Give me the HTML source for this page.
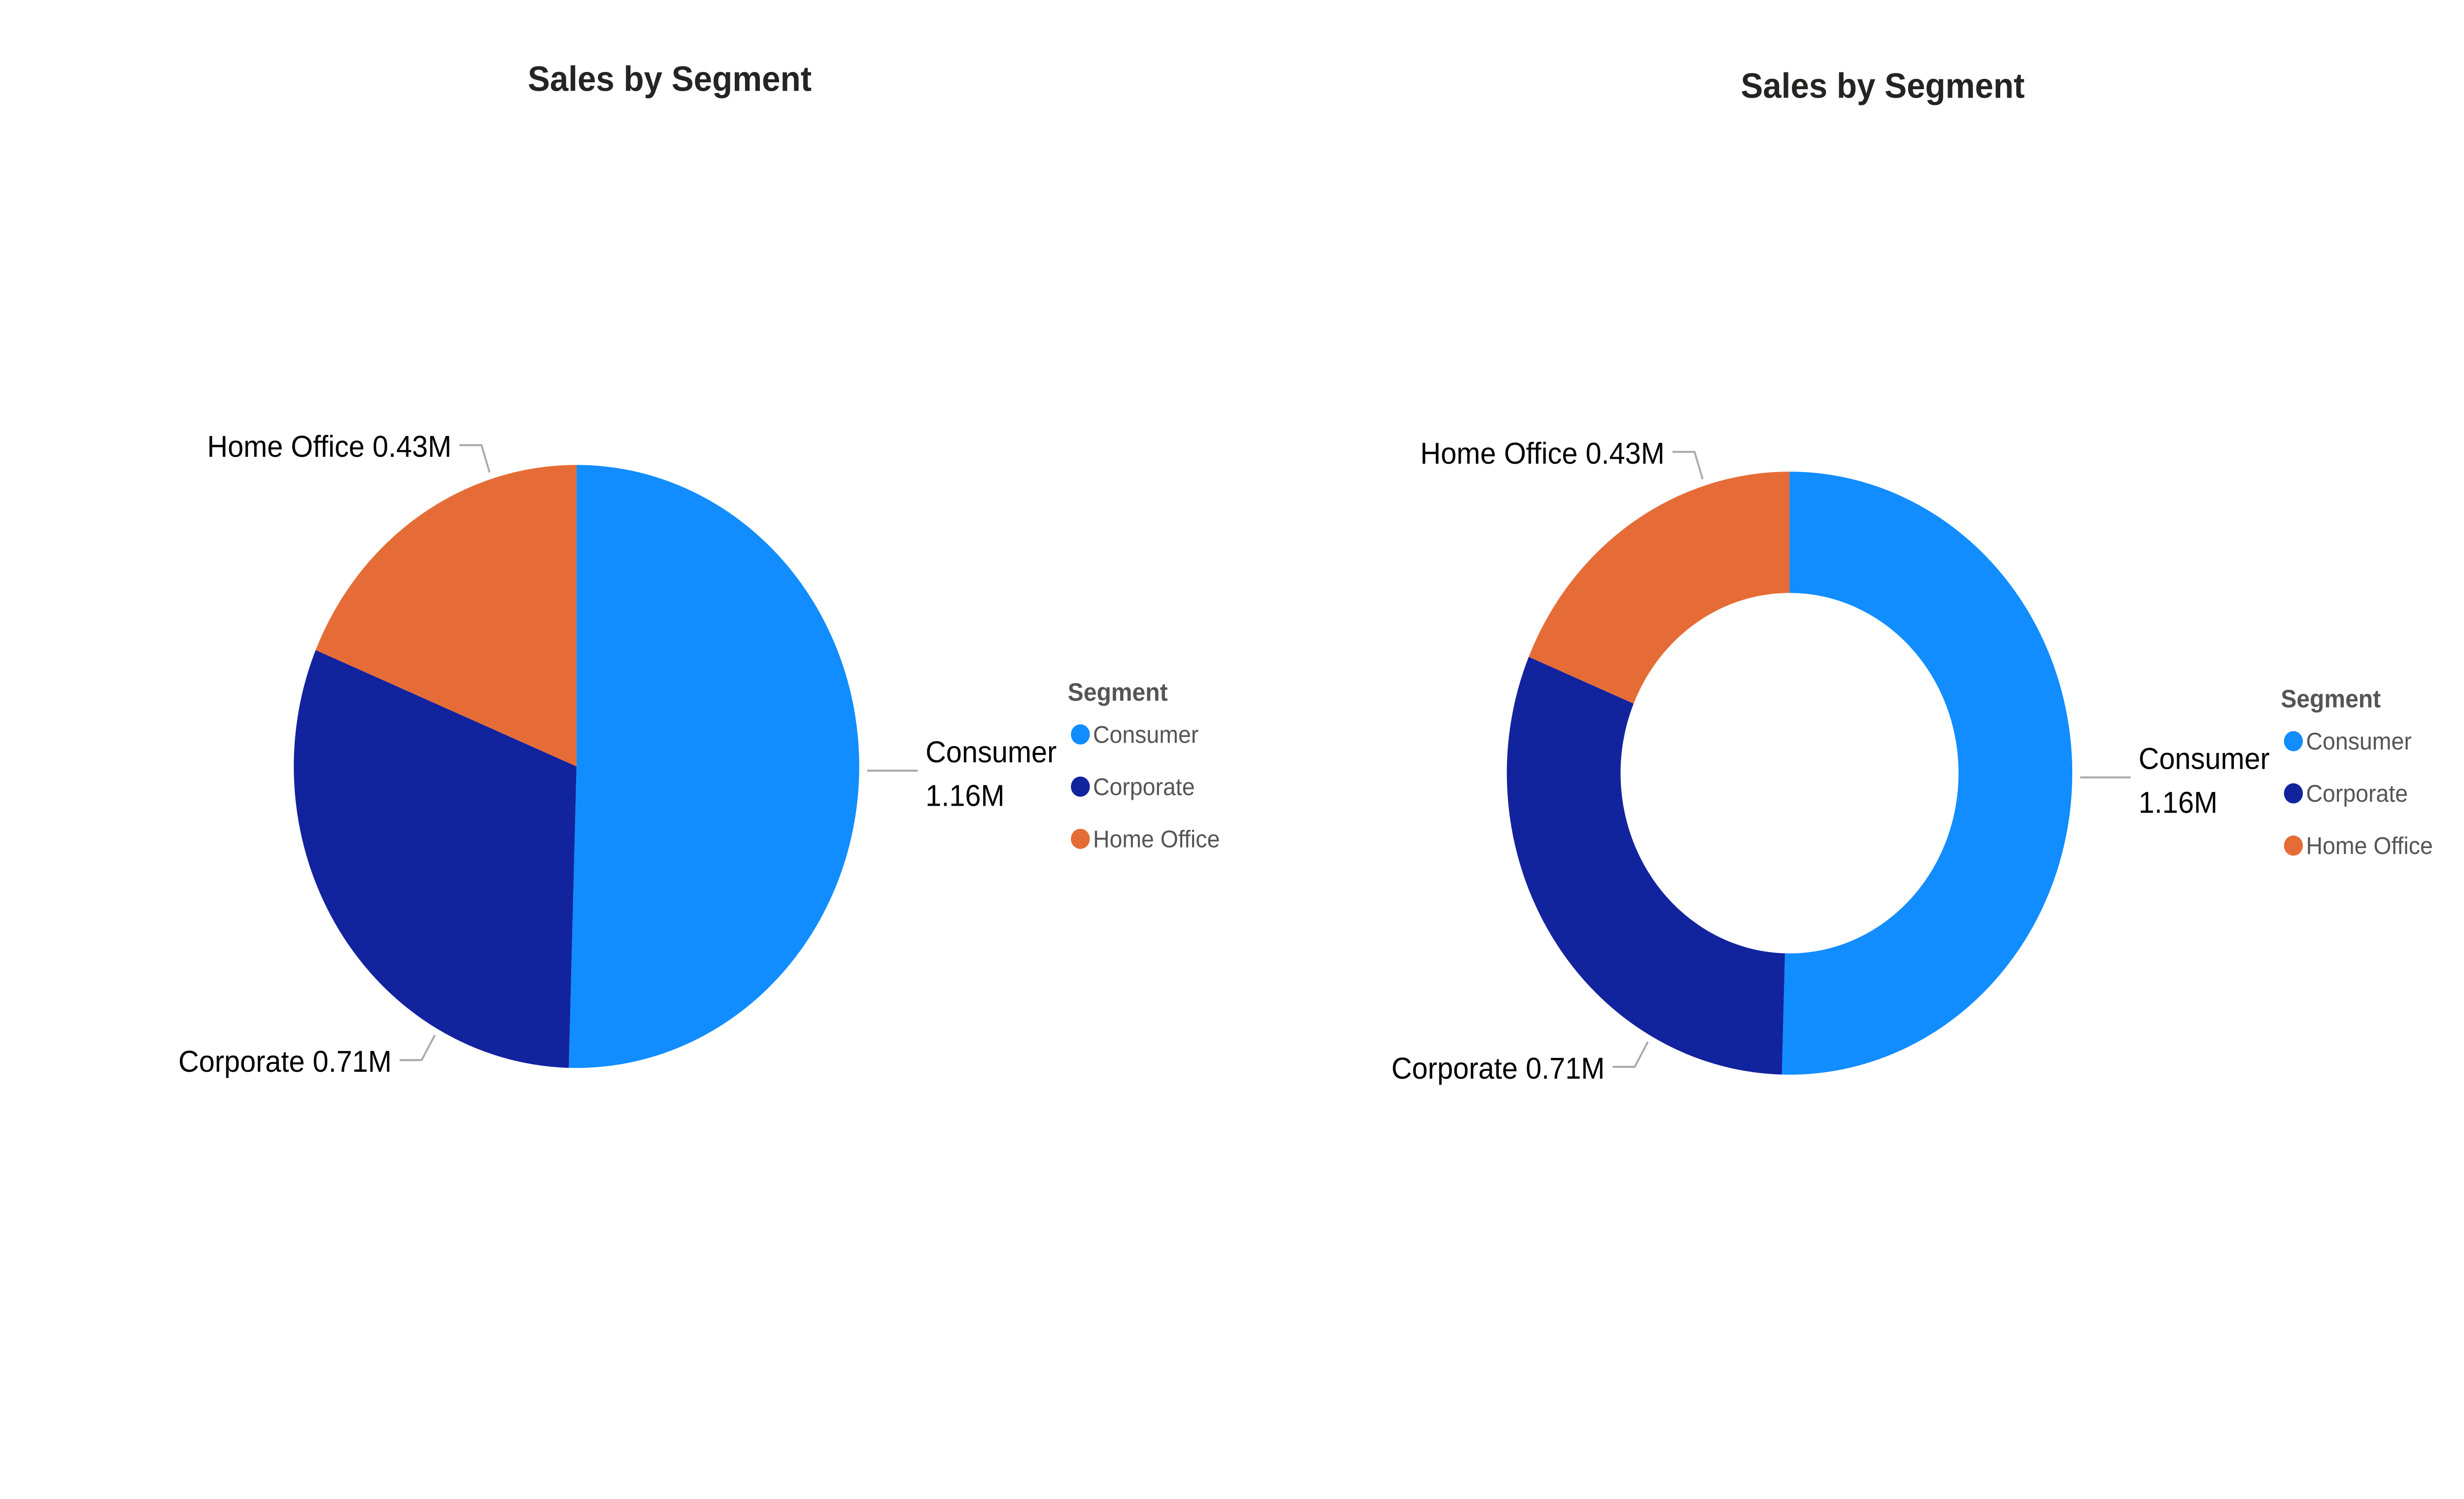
<!DOCTYPE html>
<html><head><meta charset="utf-8"><style>
html,body{margin:0;padding:0;background:#fff;width:100%;height:100%;overflow:hidden;}
svg{display:block;width:100vw;height:100vh;font-family:"Liberation Sans",sans-serif;}
</style></head><body>
<svg id="chart" viewBox="0 0 1560 889.9" preserveAspectRatio="none" xmlns="http://www.w3.org/2000/svg"><g id="root"></g></svg>
<script>
const categories = ["Consumer", "Corporate", "Home Office"];
const salesValues = [1.16, 0.71, 0.43];
const valueLabels = ["1.16M", "0.71M", "0.43M"];
const colors = ["#118DFF", "#12239E", "#E66C37"];
const NS = "http://www.w3.org/2000/svg";
const root = document.getElementById("root");
function mk(tag, attrs, parent) {
  const e = document.createElementNS(NS, tag);
  for (const k in attrs) e.setAttribute(k, attrs[k]);
  (parent || root).appendChild(e);
  return e;
}
const total = salesValues.reduce((a, b) => a + b, 0);
function pt(cx, cy, r, a) { return [cx + r * Math.sin(a), cy - r * Math.cos(a)]; }
const anchorFrac = [0.5, 0.25, 0.74];

function drawChart(ox, oy, inner, prefix) {
  const g = mk("g", {});
  
  
  const title = mk("text", {x: ox + 424, y: oy + 54, "text-anchor": "middle", "font-size": 21, fill: "#252423", "font-weight": "bold"}, g);
  title.textContent = "Sales by Segment";
  
  
  const cx = ox + 365, cy = oy + 455, R = 179;
  let start = 0;
  salesValues.forEach((v, i) => {
    const sweep = v / total * 2 * Math.PI;
    const a0 = start, a1 = start + sweep;
    const [x0, y0] = pt(cx, cy, R, a0), [x1, y1] = pt(cx, cy, R, a1);
    const large = sweep > Math.PI ? 1 : 0;
    let d;
    if (inner > 0) {
      const [ix0, iy0] = pt(cx, cy, inner, a0), [ix1, iy1] = pt(cx, cy, inner, a1);
      d = `M${x0},${y0} A${R},${R} 0 ${large} 1 ${x1},${y1} L${ix1},${iy1} A${inner},${inner} 0 ${large} 0 ${ix0},${iy0} Z`;
    } else {
      d = `M${cx},${cy} L${x0},${y0} A${R},${R} 0 ${large} 1 ${x1},${y1} Z`;
    }
    const p = mk("path", {d: d, fill: colors[i]}, g);
    
    
    const mid = a0 + sweep * anchorFrac[i];
    const right = Math.sin(mid) >= 0;
    let pts, lab;
    if (right) {
      const [lx, ly] = pt(cx, cy, R + 5, mid);
      const ex = lx + 32;
      pts = `${lx},${ly} ${ex},${ly}`;
      lab = mk("text", {x: ex + 5, y: ly - 5, "font-size": 18, fill: "#000"}, g);
      const t1 = mk("tspan", {x: ex + 5, dy: 0}, lab); t1.textContent = categories[i];
      const t2 = mk("tspan", {x: ex + 5, dy: 26}, lab); t2.textContent = valueLabels[i];
    } else {
      const [lx, ly] = pt(cx, cy, R + 4, mid);
      const [kx, ky] = pt(cx, cy, R + 21, mid);
      const ex = kx - 14;
      pts = `${lx},${ly} ${kx},${ky} ${ex},${ky}`;
      lab = mk("text", {x: ex - 5, y: ky + 7, "text-anchor": "end", "font-size": 18, fill: "#000"}, g);
      lab.textContent = categories[i] + " " + valueLabels[i];
    }
    const ln = mk("polyline", {points: pts, fill: "none", stroke: "#aaa", "stroke-width": 1.2}, g);
    
    
    
    
    start = a1;
  });
  const lg = mk("g", {}, g);
  
  
  const lt = mk("text", {x: ox + 676, y: oy + 416, "font-size": 15, "font-weight": "bold", fill: "#555"}, lg);
  lt.textContent = "Segment";
  
  
  categories.forEach((c, i) => {
    const y = oy + 436 + i * 31;
    const e = mk("g", {}, lg);
    
    
    mk("circle", {cx: ox + 684, cy: y, r: 6, fill: colors[i]}, e);
    const t = mk("text", {x: ox + 692, y: y + 5, "font-size": 14.5, fill: "#555"}, e);
    t.textContent = c;
  });
}
drawChart(0, 0, 0, "pie");
drawChart(768, 4, 107, "donut");
</script>
</body></html>
